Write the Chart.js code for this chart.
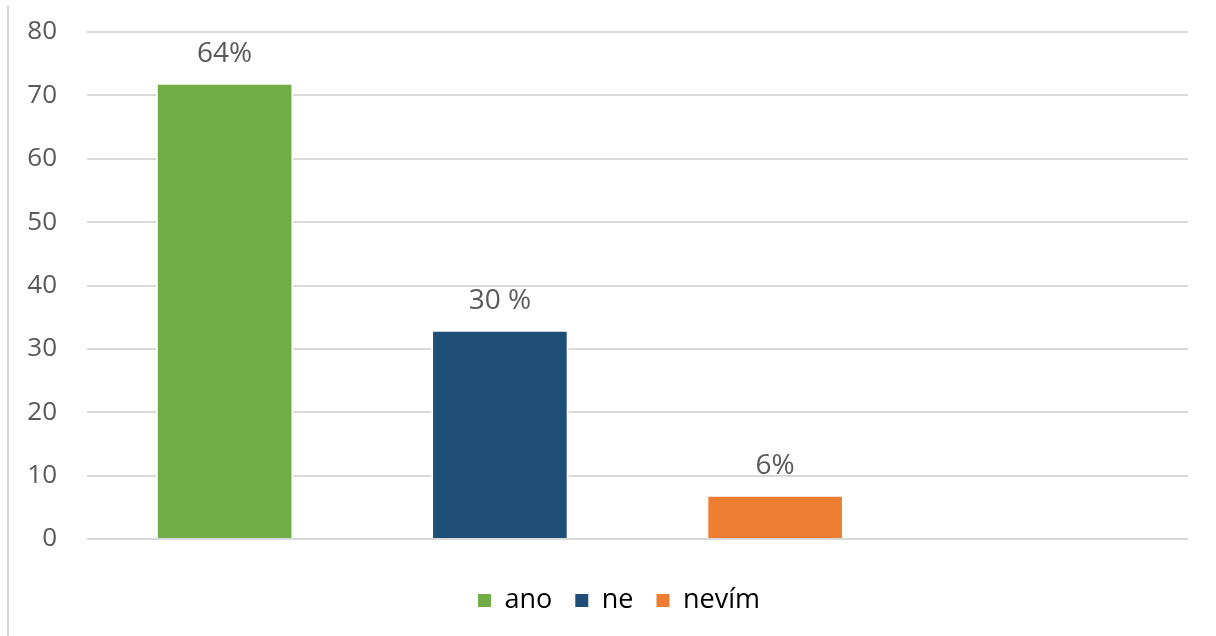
<!DOCTYPE html>
<html>
<head>
<meta charset="utf-8">
<script src="https://cdn.jsdelivr.net/npm/chart.js@4.4.1/dist/chart.umd.min.js"></script>
<style>
  html, body { margin: 0; padding: 0; background: #fff; }
  #wrap { position: relative; width: 1216px; height: 636px; }
  #frame { position: absolute; left: 7px; top: 5px; bottom: 0; border-left: 2px solid #d9d9d9; }
  canvas { position: absolute; left: 0; top: 0; }
</style>
</head>
<body>
<div id="wrap">
  <div id="frame"></div>
  <canvas id="answers" width="1216" height="636"></canvas>
</div>
<script>
const categories = ["ano", "ne", "nevím", ""];
const counts = [72, 33, 7, null];
const shares = ["64%", "30 %", "6%", ""];
const barColors = ["#70AD47", "#1F4E79", "#ED7D31", "#ffffff"];
const yTicks = [0, 10, 20, 30, 40, 50, 60, 70, 80];

const FONT = "'Open Sans', 'DejaVu Sans', sans-serif";
const TEXT = "#595959";

// percentage text above each bar
const shareLabels = {
  id: "shareLabels",
  afterDatasetsDraw(chart) {
    const ctx = chart.ctx;
    const meta = chart.getDatasetMeta(0);
    ctx.save();
    ctx.font = "28px " + FONT;
    ctx.fillStyle = TEXT;
    ctx.textAlign = "center";
    ctx.textBaseline = "alphabetic";
    meta.data.forEach((bar, i) => {
      if (counts[i] == null) return;
      ctx.fillText(shares[i], bar.x, bar.y - 21);
    });
    ctx.restore();
  }
};

// move the legend so its centre is at x = 619
const legendShift = {
  id: "legendShift",
  afterLayout(chart) {
    const lg = chart.legend;
    lg.left += 2 * 619 - (lg.left + lg.right);
  }
};

new Chart(document.getElementById("answers"), {
  type: "bar",
  data: {
    labels: categories,
    datasets: [{
      data: counts,
      backgroundColor: barColors,
      borderColor: "#ffffff",
      borderWidth: 2,
      borderSkipped: "start",
      barPercentage: 0.5,
      categoryPercentage: 1.0
    }]
  },
  options: {
    responsive: false,
    animation: false,
    layout: { padding: { left: 20, right: 28, top: 32, bottom: 12 } },
    scales: {
      x: {
        grid: { display: false },
        border: { display: false },
        ticks: { display: false },
        afterFit(scale) { scale.height = 25; }
      },
      y: {
        min: 0,
        max: 80,
        afterBuildTicks(scale) {
          scale.ticks = yTicks.map(v => ({ value: v }));
        },
        afterFit(scale) {
          scale.width = 67;
          scale.paddingTop = 0;
          scale.paddingBottom = 0;
        },
        grid: { color: "#d9d9d9", lineWidth: 2, drawTicks: false },
        border: { display: false },
        ticks: {
          padding: 30,
          color: TEXT,
          font: { family: FONT, size: 26 }
        }
      }
    },
    plugins: {
      tooltip: { enabled: false },
      legend: {
        position: "bottom",
        labels: {
          color: TEXT,
          font: { family: FONT, size: 27 },
          boxWidth: 13,
          boxHeight: 13,
          padding: 23,
          generateLabels() {
            return categories.slice(0, 3).map((c, i) => ({
              text: c,
              fillStyle: barColors[i],
              strokeStyle: barColors[i],
              lineWidth: 0,
              index: i
            }));
          }
        }
      }
    }
  },
  plugins: [shareLabels, legendShift]
});
</script>
</body>
</html>
